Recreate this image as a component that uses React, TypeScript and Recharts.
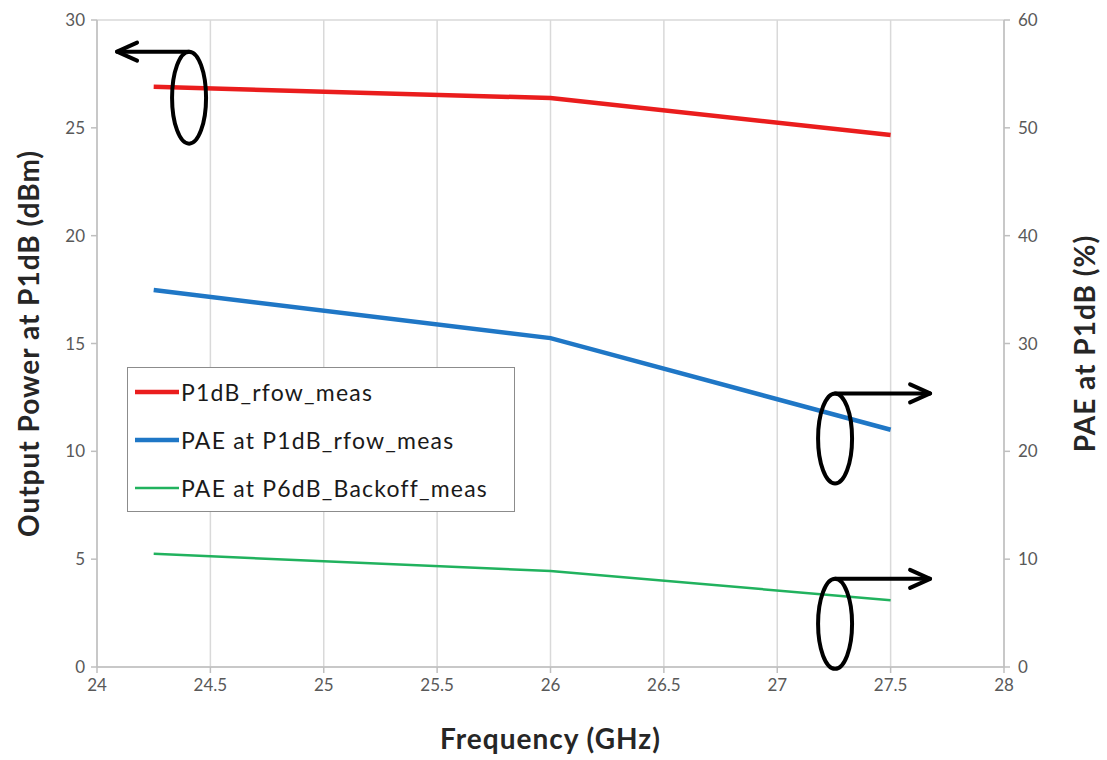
import { LineChart, Line, XAxis, YAxis, CartesianGrid, Legend, ReferenceDot } from 'recharts';

const frequency = [24.25, 26, 27.5];
const p1dbRfow = [26.9, 26.38, 24.67];
const paeP1db = [34.96, 30.5, 22.0];
const paeP6dbBackoff = [10.5, 8.9, 6.2];

const xTicks = [24, 24.5, 25, 25.5, 26, 26.5, 27, 27.5, 28];
const leftTicks = [0, 5, 10, 15, 20, 25, 30];
const rightTicks = [0, 10, 20, 30, 40, 50, 60];

// annotation anchors (ellipse centres) in data units, left axis
const leftMarker = { x: 24.406, y: 26.4 };
const rightMarkers = [
  { x: 27.255, y: 10.6 },
  { x: 27.255, y: 2.0 },
];

const data = frequency.map((f, i) => ({
  freq: f,
  p1db: p1dbRfow[i],
  pae: paeP1db[i],
  pae6: paeP6dbBackoff[i],
}));

const FONT = 'Lato, "Open Sans", sans-serif';
const titleStyle = { fill: '#262626', fontSize: 28, fontWeight: 'bold', fontFamily: FONT, letterSpacing: 1 };

function EllipseArrow(props: any) {
  const { cx, cy, dir, ry } = props;
  if (cx == null || cy == null) return null;
  const top = cy - ry;
  const len = dir === 'left' ? -72 : 95;
  const tip = cx + len;
  const back = dir === 'left' ? 20 : -20;
  return (
    <g fill="none" stroke="#000" strokeWidth={4} strokeLinecap="round" strokeLinejoin="round">
      <ellipse cx={cx} cy={cy} rx={17} ry={ry} />
      <path d={`M${cx},${top} L${tip},${top}`} />
      <path d={`M${tip + back},${top - 9} L${tip},${top} L${tip + back},${top + 9}`} />
    </g>
  );
}

function LegendBox(props: any) {
  const items = props.payload || [];
  return (
    <div
      style={{
        width: 388,
        height: 145,
        border: '1.5px solid #8c8c8c',
        background: '#fff',
        fontFamily: FONT,
        fontSize: 23,
        letterSpacing: 1.2,
        color: '#1a1a1a',
        boxSizing: 'border-box',
        paddingTop: 0,
      }}
    >
      {items.map((it: any) => (
        <div key={it.value} style={{ display: 'flex', alignItems: 'center', height: 48 }}>
          <svg width={48} height={10} style={{ marginLeft: 5 }}>
            <line x1={2} y1={5} x2={46} y2={5} stroke={it.color} strokeWidth={it.payload?.strokeWidth || 4} />
          </svg>
          <span>{it.value}</span>
        </div>
      ))}
    </div>
  );
}

export default function App() {
  return (
    <div style={{ position: 'absolute', left: 0, top: 0, background: '#fff' }}>
      <LineChart width={1107} height={760} data={data} margin={{ top: 20, right: 43, bottom: 63, left: 37 }}>
        <CartesianGrid stroke="#d9d9d9" strokeWidth={1.5} />
        <XAxis
          dataKey="freq"
          type="number"
          domain={[24, 28]}
          ticks={xTicks}
          height={30}
          stroke="#bfbfbf"
          strokeWidth={1.5}
          tickSize={6}
          tick={{ fill: '#595959', fontSize: 17, fontFamily: FONT }}
          tickMargin={6}
          label={{ value: 'Frequency (GHz)', position: 'bottom', offset: 32, ...titleStyle }}
        />
        <YAxis
          yAxisId="left"
          domain={[0, 30]}
          ticks={leftTicks}
          width={60}
          stroke="#bfbfbf"
          strokeWidth={1.5}
          tickSize={6}
          tick={{ fill: '#595959', fontSize: 17, fontFamily: FONT }}
          tickMargin={6}
          label={{ value: 'Output Power at P1dB (dBm)', angle: -90, position: 'center', dx: -38, ...titleStyle }}
        />
        <YAxis
          yAxisId="right"
          orientation="right"
          domain={[0, 60]}
          ticks={rightTicks}
          width={60}
          stroke="#bfbfbf"
          strokeWidth={1.5}
          tickSize={6}
          tick={{ fill: '#595959', fontSize: 17, fontFamily: FONT }}
          tickMargin={8}
          label={{ value: 'PAE at P1dB (%)', angle: -90, position: 'center', dx: 51, ...titleStyle }}
        />
        <Line yAxisId="left" dataKey="p1db" name="P1dB_rfow_meas" stroke="#ea1d1d" strokeWidth={4.5} dot={false} isAnimationActive={false} />
        <Line yAxisId="right" dataKey="pae" name="PAE at P1dB_rfow_meas" stroke="#1f77c6" strokeWidth={4.5} dot={false} isAnimationActive={false} />
        <Line yAxisId="right" dataKey="pae6" name="PAE at P6dB_Backoff_meas" stroke="#21b25e" strokeWidth={2.5} dot={false} isAnimationActive={false} />
        <Legend
          layout="vertical"
          align="center"
          verticalAlign="middle"
          content={<LegendBox />}
          wrapperStyle={{ left: 127, top: 367, width: 388, height: 145 }}
        />
        <ReferenceDot
          yAxisId="left"
          x={leftMarker.x}
          y={leftMarker.y}
          r={0}
          shape={(p: any) => <EllipseArrow {...p} dir="left" ry={46} />}
        />
        {rightMarkers.map((m, i) => (
          <ReferenceDot
            key={i}
            yAxisId="left"
            x={m.x}
            y={m.y}
            r={0}
            shape={(p: any) => <EllipseArrow {...p} dir="right" ry={45} />}
          />
        ))}
      </LineChart>
    </div>
  );
}
